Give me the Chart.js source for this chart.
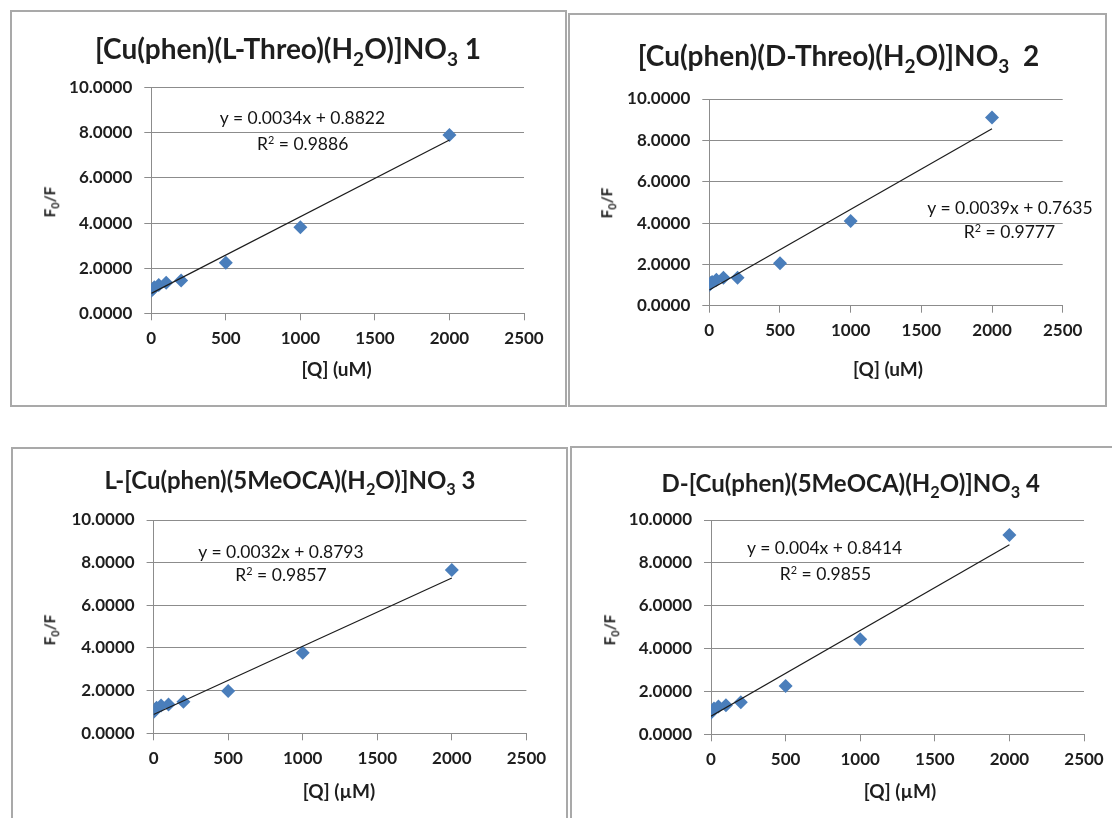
<!DOCTYPE html>
<html>
<head>
<meta charset="utf-8">
<script src="https://cdn.jsdelivr.net/npm/chart.js@4.4.1/dist/chart.umd.min.js"></script>
<style>
  html, body { margin: 0; padding: 0; background: #fff; }
  #page { position: relative; width: 1112px; height: 818px; overflow: hidden; background: #fff;
          font-family: Lato, "Open Sans", sans-serif; color: #1e1e1e; }
  .panel { position: absolute; box-sizing: border-box; border: 2px solid #a9a9a9; background: #fff; }
  canvas.plot { position: absolute; left: 0; top: 0; pointer-events: none; }
  .lbl { position: absolute; transform: translate(-50%, -50%); white-space: nowrap; line-height: 1; }
  .title { font-size: 28px; font-weight: 700; }
  .title.small { font-size: 24px; }
  .eq { font-size: 17.5px; font-weight: 400; color: #141414; }
  .axt { font-size: 19px; font-weight: 700; }
  .yaxt { font-size: 15.5px; font-weight: 700; }
  .vert { transform: translate(-50%, -50%) rotate(-90deg); }
  sub { font-size: 0.68em; vertical-align: -0.35em; line-height: 0; }
  sup { font-size: 0.62em; vertical-align: 0.55em; line-height: 0; }
</style>
</head>
<body>
<div id="page">
  <div class="panel" style="left:10px;top:10px;width:557px;height:397px"></div>
  <div class="panel" style="left:568px;top:13px;width:539px;height:394px"></div>
  <div class="panel" style="left:11px;top:447px;width:557px;height:420px"></div>
  <div class="panel" style="left:570px;top:446px;width:580px;height:420px"></div>
</div>
<script>
// Quencher concentration [Q] (µM) and measured F0/F ratios for each complex
const concentrations = [0, 10, 20, 50, 100, 200, 500, 1000, 2000];
const ratioL_Threo   = [1.00, 1.08, 1.15, 1.25, 1.35, 1.45, 2.24, 3.81, 7.90];
const ratioD_Threo   = [1.00, 1.10, 1.15, 1.25, 1.35, 1.35, 2.05, 4.10, 9.10];
const ratioL_5MeOCA  = [1.00, 1.10, 1.20, 1.30, 1.35, 1.48, 1.98, 3.78, 7.66];
const ratioD_5MeOCA  = [1.00, 1.10, 1.20, 1.30, 1.35, 1.50, 2.25, 4.43, 9.30];

// Linear Stern–Volmer fits: y = slope * x + intercept
const fitSlopes     = [0.0034, 0.0039, 0.0032, 0.004];
const fitIntercepts = [0.8822, 0.7635, 0.8793, 0.8414];
const fitSlopeText  = ['0.0034', '0.0039', '0.0032', '0.004'];
const fitR2Text     = ['0.9886', '0.9777', '0.9857', '0.9855'];
const fitRange      = [0, 2000];

// Axis ticks
const xTickValues = [0, 500, 1000, 1500, 2000, 2500];
const yTickValues = [0, 2, 4, 6, 8, 10];

// Titles (HTML so sub/superscripts render as text)
const titles = [
  '[Cu(phen)(L-Threo)(H<sub>2</sub>O)]NO<sub>3</sub>&nbsp;1',
  '[Cu(phen)(D-Threo)(H<sub>2</sub>O)]NO<sub>3</sub>&nbsp; 2',
  'L-[Cu(phen)(5MeOCA)(H<sub>2</sub>O)]NO<sub>3</sub> 3',
  'D-[Cu(phen)(5MeOCA)(H<sub>2</sub>O)]NO<sub>3</sub> 4'
];
const xAxisTitles = ['[Q] (uM)', '[Q] (uM)', '[Q] (\u00b5M)', '[Q] (\u00b5M)'];
const yAxisTitle = 'F<sub>0</sub>/F';
const seriesList = [ratioL_Threo, ratioD_Threo, ratioL_5MeOCA, ratioD_5MeOCA];

// Page layout for each panel: plot area and label anchors
const layouts = [
  { area: {left: 151.3, top: 87.7, right: 524, bottom: 313.3}, titleCls: 'title',
    title: [288, 48], eq: [302.5, 118], r2: [302.7, 144], yt: [50, 202], xt: [336.6, 368] },
  { area: {left: 709.3, top: 99, right: 1062.7, bottom: 305.7}, titleCls: 'title',
    title: [838.5, 55], eq: [1010, 207.5], r2: [1009.5, 232], yt: [607, 203], xt: [888, 368] },
  { area: {left: 153.6, top: 520, right: 526.4, bottom: 733.3}, titleCls: 'title small',
    title: [290, 480], eq: [281, 551.7], r2: [281, 575], yt: [50, 630], xt: [339, 790] },
  { area: {left: 711, top: 520, right: 1084, bottom: 734.3}, titleCls: 'title small',
    title: [850.7, 483], eq: [824.7, 548.3], r2: [825.5, 574], yt: [610, 630], xt: [900, 790] }
];

const W = 1112, H = 818;
const Y_AXIS_W = 100, X_AXIS_H = 50;
const gridColor = '#8c8c8c';
const tickFont = { family: 'Lato, "Open Sans", sans-serif', size: 17, weight: 'bold' };
const page = document.getElementById('page');

function addLabel(html, pos, cls) {
  const el = document.createElement('div');
  el.className = 'lbl ' + cls;
  el.innerHTML = html;
  el.style.left = pos[0] + 'px';
  el.style.top = pos[1] + 'px';
  page.appendChild(el);
}

layouts.forEach((lay, i) => {
  const canvas = document.createElement('canvas');
  canvas.className = 'plot';
  canvas.width = W; canvas.height = H;
  page.appendChild(canvas);

  const a = lay.area;
  const points = concentrations.map((x, k) => ({ x: x, y: seriesList[i][k] }));
  const trend = fitRange.map(x => ({ x: x, y: fitSlopes[i] * x + fitIntercepts[i] }));

  new Chart(canvas, {
    type: 'scatter',
    data: {
      datasets: [
        { type: 'line', data: trend, borderColor: '#1c1c1c', borderWidth: 1.2,
          pointRadius: 0, fill: false },
        { data: points, pointStyle: 'rectRot', pointRadius: 7, pointHoverRadius: 7,
          backgroundColor: '#4a7ebb', borderColor: '#4a7ebb', borderWidth: 0 }
      ]
    },
    options: {
      responsive: false,
      animation: false,
      events: [],
      layout: { padding: { left: a.left - Y_AXIS_W, top: a.top, right: W - a.right,
                           bottom: H - a.bottom - X_AXIS_H } },
      plugins: { legend: { display: false }, tooltip: { enabled: false }, title: { display: false } },
      scales: {
        x: {
          type: 'linear', min: 0, max: 2500,
          afterFit: s => { s.height = X_AXIS_H; },
          afterBuildTicks: s => { s.ticks = xTickValues.map(v => ({ value: v })); },
          grid: { drawOnChartArea: false, drawTicks: true, tickLength: 7, color: gridColor, lineWidth: 1 },
          border: { display: true, color: gridColor, width: 1 },
          ticks: { color: '#1e1e1e', font: tickFont, padding: 8, maxRotation: 0,
                   callback: v => String(v) }
        },
        y: {
          type: 'linear', min: 0, max: 10,
          afterFit: s => { s.width = Y_AXIS_W; },
          afterBuildTicks: s => { s.ticks = yTickValues.map(v => ({ value: v })); },
          grid: { drawTicks: true, tickLength: 7, color: gridColor, lineWidth: 1 },
          border: { display: true, color: gridColor, width: 1 },
          ticks: { color: '#1e1e1e', font: tickFont, padding: 12,
                   callback: v => Number(v).toFixed(4) }
        }
      }
    }
  });

  addLabel(titles[i], lay.title, lay.titleCls);
  addLabel('y = ' + fitSlopeText[i] + 'x + ' + fitIntercepts[i].toFixed(4), lay.eq, 'eq');
  addLabel('R<sup>2</sup> = ' + fitR2Text[i], lay.r2, 'eq');
  addLabel(yAxisTitle, lay.yt, 'yaxt vert');
  addLabel(xAxisTitles[i], lay.xt, 'axt');
});
</script>
</body>
</html>
